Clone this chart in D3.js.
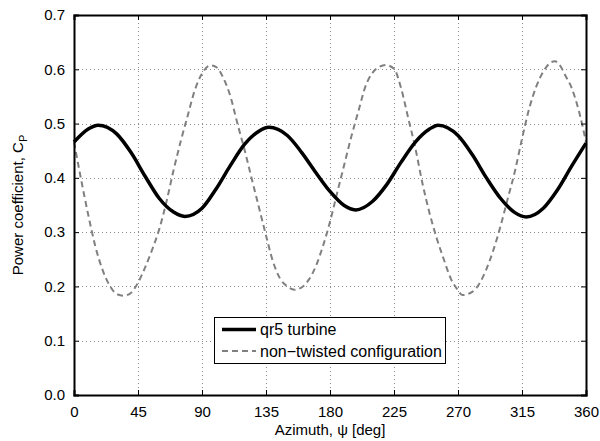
<!DOCTYPE html>
<html lang="en">
<head>
<meta charset="UTF-8">
<title>Power coefficient vs azimuth</title>
<script src="https://d3js.org/d3.v7.min.js"></script>
<style>
  html, body { margin: 0; padding: 0; background: #fff; }
  text { font-family: "Liberation Sans", Arial, Helvetica, sans-serif; fill: #000; }
</style>
</head>
<body>
<div id="chart"></div>
<script>
// qr5 turbine (solid black)
var azimuthSolid = [0, 10, 17, 30, 40, 50, 60, 70, 78, 90, 100, 110, 120, 130, 137, 150, 160, 170, 180, 190, 198,
                    210, 220, 230, 240, 250, 256, 270, 280, 290, 300, 310, 318, 330, 340, 350, 360];
var cpSolid = [0.466, 0.490, 0.497, 0.481, 0.447, 0.403, 0.362, 0.337, 0.329, 0.344, 0.380, 0.423, 0.462, 0.486, 0.493,
               0.478, 0.447, 0.410, 0.375, 0.349, 0.341, 0.357, 0.388, 0.429, 0.466, 0.490, 0.497,
               0.478, 0.443, 0.400, 0.362, 0.336, 0.328, 0.344, 0.378, 0.422, 0.464];

// non-twisted configuration (dashed grey)
var azimuthDashed = [0, 5, 10, 15, 20, 25, 30, 35, 40, 45, 50, 55, 60, 65, 70, 75, 80, 85, 90, 96, 100,
                     105, 110, 115, 120, 125, 130, 135, 140, 145, 150, 155, 160, 165, 170, 175, 180,
                     185, 190, 195, 200, 205, 210, 215, 219, 225, 230, 235, 240, 245, 250, 255, 260,
                     265, 270, 273, 280, 285, 290, 295, 300, 305, 310, 315, 320, 325, 330, 335, 338,
                     342, 345, 350, 355, 360];
var cpDashed = [0.466, 0.397, 0.332, 0.274, 0.231, 0.202, 0.186, 0.183, 0.188, 0.207, 0.235, 0.268, 0.306, 0.356,
                0.414, 0.467, 0.515, 0.562, 0.592, 0.607, 0.604,
                0.584, 0.550, 0.499, 0.451, 0.398, 0.346, 0.294, 0.245, 0.214, 0.200, 0.194, 0.198, 0.212,
                0.237, 0.274, 0.319,
                0.372, 0.424, 0.476, 0.523, 0.569, 0.594, 0.605, 0.608, 0.601, 0.565, 0.510, 0.455, 0.390,
                0.335, 0.289, 0.250,
                0.214, 0.193, 0.184, 0.190, 0.205, 0.232, 0.268, 0.312, 0.362, 0.412, 0.472, 0.527, 0.568,
                0.596, 0.612, 0.615,
                0.606, 0.591, 0.565, 0.523, 0.466];

var xTicks = [0, 45, 90, 135, 180, 225, 270, 315, 360];
var yTicks = [0, 0.1, 0.2, 0.3, 0.4, 0.5, 0.6, 0.7];
var seriesNames = ["qr5 turbine", "non\u2212twisted configuration"];

var W = 600, H = 441;
var plot = {left: 74, right: 586, top: 15, bottom: 395};

var svg = d3.select("#chart").append("svg")
    .attr("width", W)
    .attr("height", H);

svg.append("rect").attr("width", W).attr("height", H).attr("fill", "#fff");

var x = d3.scaleLinear().domain([0, 360]).range([plot.left, plot.right]);
var y = d3.scaleLinear().domain([0, 0.7]).range([plot.bottom, plot.top]);

// dotted grid
var grid = svg.append("g").attr("stroke", "#8c8c8c").attr("stroke-width", 1).attr("stroke-dasharray", "1,3");
grid.selectAll("line.vx").data(xTicks.slice(1, -1)).enter().append("line")
    .attr("x1", function(d) { return Math.round(x(d)) + 0.5; })
    .attr("x2", function(d) { return Math.round(x(d)) + 0.5; })
    .attr("y1", plot.top).attr("y2", plot.bottom);
grid.selectAll("line.hy").data(yTicks.slice(1, -1)).enter().append("line")
    .attr("y1", function(d) { return Math.round(y(d)) + 0.5; })
    .attr("y2", function(d) { return Math.round(y(d)) + 0.5; })
    .attr("x1", plot.left).attr("x2", plot.right);

// curves
var lineSolid = d3.line()
    .x(function(d, i) { return x(azimuthSolid[i]); })
    .y(function(d) { return y(d); })
    .curve(d3.curveMonotoneX);
var lineDashed = d3.line()
    .x(function(d, i) { return x(azimuthDashed[i]); })
    .y(function(d) { return y(d); })
    .curve(d3.curveMonotoneX);

svg.append("path").datum(cpDashed)
    .attr("d", lineDashed)
    .attr("fill", "none")
    .attr("stroke", "#808080")
    .attr("stroke-width", 2)
    .attr("stroke-dasharray", "6,4");

svg.append("path").datum(cpSolid)
    .attr("d", lineSolid)
    .attr("fill", "none")
    .attr("stroke", "#000")
    .attr("stroke-width", 3.5);

// axes (box with inward ticks on all sides)
var tl = 5;
svg.append("g").attr("transform", "translate(0," + plot.bottom + ")")
    .call(d3.axisBottom(x).tickValues(xTicks).tickSize(-tl).tickPadding(tl + 6).tickFormat(d3.format("d")));
svg.append("g").attr("transform", "translate(0," + plot.top + ")")
    .call(d3.axisTop(x).tickValues(xTicks).tickSize(-tl).tickFormat(""));
svg.append("g").attr("transform", "translate(" + plot.left + ",0)")
    .call(d3.axisLeft(y).tickValues(yTicks).tickSize(-tl).tickPadding(tl + 4).tickFormat(d3.format(".1f")));
svg.append("g").attr("transform", "translate(" + plot.right + ",0)")
    .call(d3.axisRight(y).tickValues(yTicks).tickSize(-tl).tickFormat(""));

svg.selectAll(".domain").attr("stroke", "#000").attr("stroke-width", 2);
svg.selectAll(".tick line").attr("stroke", "#000").attr("stroke-width", 1);
svg.selectAll(".tick text")
    .style("font-family", "'Liberation Sans', Arial, sans-serif")
    .style("font-size", "15px").attr("fill", "#000");

// axis labels
svg.append("text")
    .attr("x", (plot.left + plot.right) / 2)
    .attr("y", 435)
    .attr("text-anchor", "middle")
    .style("font-size", "15px")
    .text("Azimuth, \u03c8 [deg]");

var yl = svg.append("text")
    .attr("transform", "translate(23," + ((plot.top + plot.bottom) / 2) + ") rotate(-90)")
    .attr("text-anchor", "middle")
    .style("font-size", "15px");
yl.append("tspan").text("Power coefficient, C");
yl.append("tspan").attr("dy", 4).style("font-size", "11px").text("P");

// legend
var lg = svg.append("g");
lg.append("rect")
    .attr("x", 214.5).attr("y", 317.5)
    .attr("width", 231).attr("height", 46)
    .attr("fill", "#fff").attr("stroke", "#000").attr("stroke-width", 1);
var rows = [
    {name: seriesNames[0], color: "#000", width: 3.5, dash: null, yy: 329.5},
    {name: seriesNames[1], color: "#808080", width: 2, dash: "6,4", yy: 351}
];
rows.forEach(function(r) {
    lg.append("line")
        .attr("x1", 222).attr("x2", 256)
        .attr("y1", r.yy).attr("y2", r.yy)
        .attr("stroke", r.color).attr("stroke-width", r.width)
        .attr("stroke-dasharray", r.dash);
    lg.append("text")
        .attr("x", 260).attr("y", r.yy + 5.5)
        .style("font-size", "16px")
        .text(r.name);
});
</script>
</body>
</html>
